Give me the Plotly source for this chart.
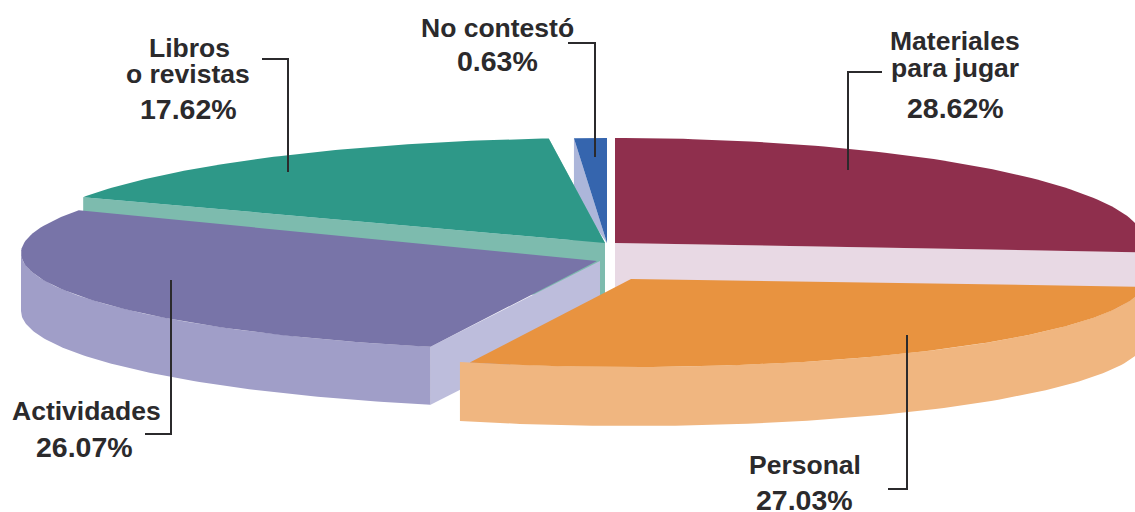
import math
import plotly.graph_objects as go

categories = ["Materiales para jugar", "Personal", "Actividades", "Libros o revistas", "No contestó"]
shares = [28.62, 27.03, 26.07, 17.62, 0.63]
pct_labels = ["28.62%", "27.03%", "26.07%", "17.62%", "0.63%"]

# geometry of the exploded, tilted pie (page pixels)
apex_x = [615, 631, 597, 605, 607]
apex_y = [243, 279, 261, 243, 243]
ell_y = [243, 279, 253, 243, 243]
rad_x = [530, 515, 576, 580, 580]
rad_y = [105, 88, 98, 105, 105]
depth = [58, 59, 58, 58, 58]
shift_start = [0, -8, -3.6, 1.6, -1.0]
shift_end = [-8, -1, 1.6, -3.3, 0]
top_trim = [0, 1.15, 0, 0, 0]

top_col = ["#8F2F4D", "#E89340", "#7874A8", "#2E9888", "#3565AE"]
rim_col = ["#E8D9E4", "#F0B680", "#A09EC8", "#7DBBAE", "#ACB6DA"]
face_col = ["#E8D9E4", "#F0B680", "#BDBDDC", "#7DBBAE", "#ACB6DA"]

label_text = ["Materiales", "para jugar", "28.62%", "Libros", "o revistas", "17.62%",
              "No contestó", "0.63%", "Actividades", "26.07%", "Personal", "27.03%"]
label_x = [955, 955, 955, 189, 188, 188, 497, 497, 86, 84, 805, 804]
label_y = [41, 68, 108, 48, 74, 109, 28, 61, 411, 447, 465, 500]
label_size = [26.5, 26.5, 28.5, 26.5, 26.5, 28.5, 26.5, 28.5, 26.5, 28.5, 26.5, 28.5]

leader_x = [[848, 848, 882], [288, 288, 262], [595, 595, 568], [171, 171, 145], [907, 907, 888]]
leader_y = [[170, 72, 72], [172, 59, 59], [157, 43, 43], [280, 434, 434], [335, 489, 489]]

fig = go.Figure()


def poly(xs, ys, color):
    fig.add_trace(go.Scatter(x=xs + xs[:1], y=ys + ys[:1], mode="lines", fill="toself",
                             fillcolor=color, line=dict(width=0), hoverinfo="skip",
                             showlegend=False))


bounds = [0]
for s in shares:
    bounds.append(bounds[-1] + s / sum(shares) * 360)


def arc(i, a0, a1, n=90):
    xs, ys = [], []
    for k in range(n + 1):
        t = math.radians(a0 + (a1 - a0) * k / n)
        xs.append(apex_x[i] + rad_x[i] * math.sin(t))
        ys.append(ell_y[i] - rad_y[i] * math.cos(t))
    return xs, ys


def radial_face(i, x, y, color, inset=0):
    d = depth[i]
    ax = apex_x[i] + inset
    ay = apex_y[i]
    poly([x, ax, ax, x], [y, ay, ay + d, y + d], color)


def band(i, a0, a1):
    # the curved rim is only seen on the front half of the ellipse
    a0 = max(a0, 90)
    a1 = min(a1, 270)
    xs, ys = arc(i, a0, a1)
    d = depth[i]
    poly(xs + xs[::-1], ys + [y + d for y in ys[::-1]], rim_col[i])


def slice_(i):
    a0 = bounds[i] + shift_start[i]
    a1 = bounds[i + 1] + shift_end[i]
    xs, ys = arc(i, a0, a1)
    if i == 4:  # sliver: only its left side face shows
        poly([xs[0], xs[0], apex_x[i]], [ys[0], ys[0] + depth[i], apex_y[i]], face_col[i])
    elif i == 0:
        radial_face(i, xs[-1], ys[-1], face_col[i])
    elif i == 1:
        band(i, a0, a1)
    elif i == 2:
        radial_face(i, xs[0], ys[0], face_col[i], inset=3)
        band(i, a0, a1)
    elif i == 3:
        radial_face(i, xs[-1], ys[-1], face_col[i])
        radial_face(i, xs[0], ys[0], face_col[i])
    xt, yt = arc(i, a0, a1 - top_trim[i])
    poly([apex_x[i]] + xt, [apex_y[i]] + yt, top_col[i])


for i in [4, 0, 3, 2, 1]:
    slice_(i)

for lx, ly in zip(leader_x, leader_y):
    fig.add_trace(go.Scatter(x=lx, y=ly, mode="lines", line=dict(color="#2B2A2C", width=2),
                             hoverinfo="skip", showlegend=False))

for t, x, y, s in zip(label_text, label_x, label_y, label_size):
    fig.add_annotation(x=x, y=y, text=f"<b>{t}</b>", showarrow=False, xanchor="center",
                       yanchor="middle",
                       font=dict(family="Liberation Sans", size=s, color="#2B2A2C"))

fig.update_xaxes(range=[0, 1135], visible=False, fixedrange=True)
fig.update_yaxes(range=[512, 0], visible=False, fixedrange=True)
fig.update_layout(width=1135, height=512, margin=dict(l=0, r=0, t=0, b=0),
                  paper_bgcolor="white", plot_bgcolor="white", showlegend=False)
fig.write_html("out.html", config={"displayModeBar": False},
               post_script="document.body.style.margin='0';document.body.style.overflow='hidden';")
